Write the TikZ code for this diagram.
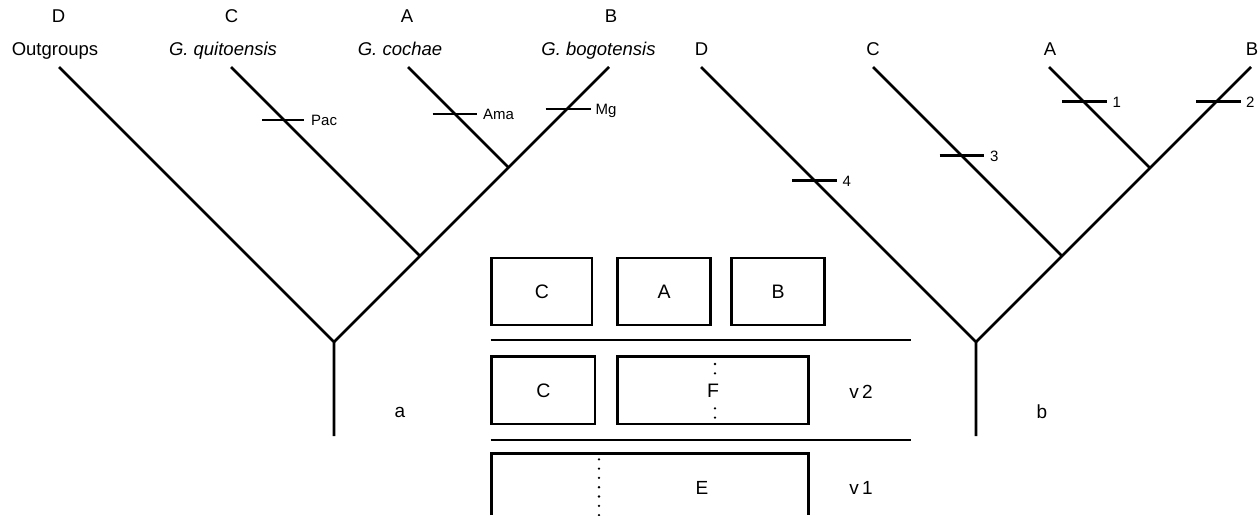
\documentclass[tikz,border=0pt]{standalone}
\usepackage{fontspec}
\setmainfont{Liberation Sans}
\begin{document}
\begin{tikzpicture}[x=1pt,y=-1pt,
  branch/.style={line width=2.6pt},
  tickmark/.style={line width=2.7pt},
  lab/.style={font=\fontsize{18.5}{20}\selectfont, inner sep=0pt, anchor=base},
  ticklab/.style={font=\fontsize{15}{16}\selectfont, inner sep=0pt, anchor=base west},
  treelab/.style={font=\fontsize{19}{20}\selectfont, inner sep=0pt},
  boxnode/.style={draw, line width=2.5pt, inner sep=0pt, font=\fontsize{19.5}{20}\selectfont},
  sepline/.style={line width=2.5pt},
  dotline/.style={line width=2.6pt, line cap=round, dash pattern=on 0pt off 9.3pt}]
\useasboundingbox (0,0) rectangle (1259,515);

% ---------- tree a ----------
\coordinate (aR) at (334,436);
\coordinate (aJ) at (334,342);
\coordinate (aJC) at (420,256);
\coordinate (aJAB) at (508.5,167.5);
\coordinate (aD) at (59,67);
\coordinate (aC) at (231,67);
\coordinate (aA) at (408,67);
\coordinate (aB) at (609,67);
\draw[branch] (aR) -- (aJ) -- (aD);
\draw[branch] (aJ) -- (aB);
\draw[branch] (aJC) -- (aC);
\draw[branch] (aJAB) -- (aA);

\node[lab] (laD) at (58.5,22.5) {D};
\node[lab] (laDn) at (55,55) {Outgroups};
\node[lab] (laC) at (231.5,22.5) {C};
\node[lab] (laCn) at (223,55) {\itshape G. quitoensis};
\node[lab] (laA) at (407,22.5) {A};
\node[lab] (laAn) at (400,55) {\itshape G. cochae};
\node[lab] (laB) at (611,22.5) {B};
\node[lab] (laBn) at (598.5,55) {\itshape G. bogotensis};

% ticks on tree a
\coordinate (tPa) at (262,120); \coordinate (tPb) at (304,120);
\draw[tickmark] (tPa) -- (tPb);
\node[ticklab] (lPac) at (311,125.5) {Pac};
\coordinate (tAa) at (432.5,114); \coordinate (tAb) at (477,114);
\draw[tickmark] (tAa) -- (tAb);
\node[ticklab] (lAma) at (483,119.5) {Ama};
\coordinate (tMa) at (545.5,109); \coordinate (tMb) at (590.5,109);
\draw[tickmark] (tMa) -- (tMb);
\node[ticklab] (lMg) at (595.5,114.5) {Mg};

\node[treelab] (ta) at (400,412) {a};

% ---------- tree b ----------
\coordinate (bR) at (976,436);
\coordinate (bJ) at (976,342);
\coordinate (bJC) at (1062,256);
\coordinate (bJAB) at (1150,168);
\coordinate (bD) at (701,67);
\coordinate (bC) at (873,67);
\coordinate (bA) at (1049,67);
\coordinate (bB) at (1251,67);
\draw[branch] (bR) -- (bJ) -- (bD);
\draw[branch] (bJ) -- (bB);
\draw[branch] (bJC) -- (bC);
\draw[branch] (bJAB) -- (bA);

\node[lab] (lbD) at (701.5,55) {D};
\node[lab] (lbC) at (873,55) {C};
\node[lab] (lbA) at (1050,55) {A};
\node[lab] (lbB) at (1252,55) {B};

\coordinate (t1a) at (1062,101.7); \coordinate (t1b) at (1107,101.7);
\draw[tickmark] (t1a) -- (t1b);
\node[ticklab] (l1) at (1112.5,107) {1};
\coordinate (t2a) at (1196,101.7); \coordinate (t2b) at (1240.5,101.7);
\draw[tickmark] (t2a) -- (t2b);
\node[ticklab] (l2) at (1246,107) {2};
\coordinate (t3a) at (939.5,155.7); \coordinate (t3b) at (984,155.7);
\draw[tickmark] (t3a) -- (t3b);
\node[ticklab] (l3) at (990,161) {3};
\coordinate (t4a) at (792,180.7); \coordinate (t4b) at (837,180.7);
\draw[tickmark] (t4a) -- (t4b);
\node[ticklab] (l4) at (842.5,186) {4};

\node[treelab] (tb) at (1042,412) {b};

% ---------- boxes ----------
\node[boxnode, minimum width=100.3pt, minimum height=67pt] (r1C) at (541.85,291.5) {C};
\node[boxnode, minimum width=93pt, minimum height=67pt] (r1A) at (664.2,291.5) {A};
\node[boxnode, minimum width=92.6pt, minimum height=67pt] (r1B) at (778,291.5) {B};

\coordinate (s1a) at (490.7,340); \coordinate (s1b) at (910.7,340);
\draw[sepline] (s1a) -- (s1b);

\node[boxnode, minimum width=103.3pt, minimum height=67.3pt] (r2C) at (543.35,390.35) {C};
\node[boxnode, minimum width=190.6pt, minimum height=67.3pt] (r2F) at (713,390.35) {F};
\coordinate (fd1) at (715,364); \coordinate (fd2) at (715,374);
\coordinate (fd3) at (715,408.3); \coordinate (fd4) at (715,418);
\draw[dotline] (fd1) -- (fd2);
\draw[dotline] (fd3) -- (fd4);
\node[treelab] (v2) at (861,392) {v\,2};

\coordinate (s2a) at (490.7,440); \coordinate (s2b) at (910.7,440);
\draw[sepline] (s2a) -- (s2b);

\coordinate (eBL) at (491.7,515); \coordinate (eTL) at (491.7,453.3);
\coordinate (eTR) at (808.3,453.3); \coordinate (eBR) at (808.3,515);
\draw[line width=2.5pt] (eBL) -- (eTL) -- (eTR) -- (eBR);
\node[treelab] (tE) at (702,488) {E};
\coordinate (ed1) at (599,459.3); \coordinate (ed2) at (599,516);
\draw[dotline] (ed1) -- (ed2);
\node[treelab] (v1) at (861,488) {v\,1};
\end{tikzpicture}
\end{document}
